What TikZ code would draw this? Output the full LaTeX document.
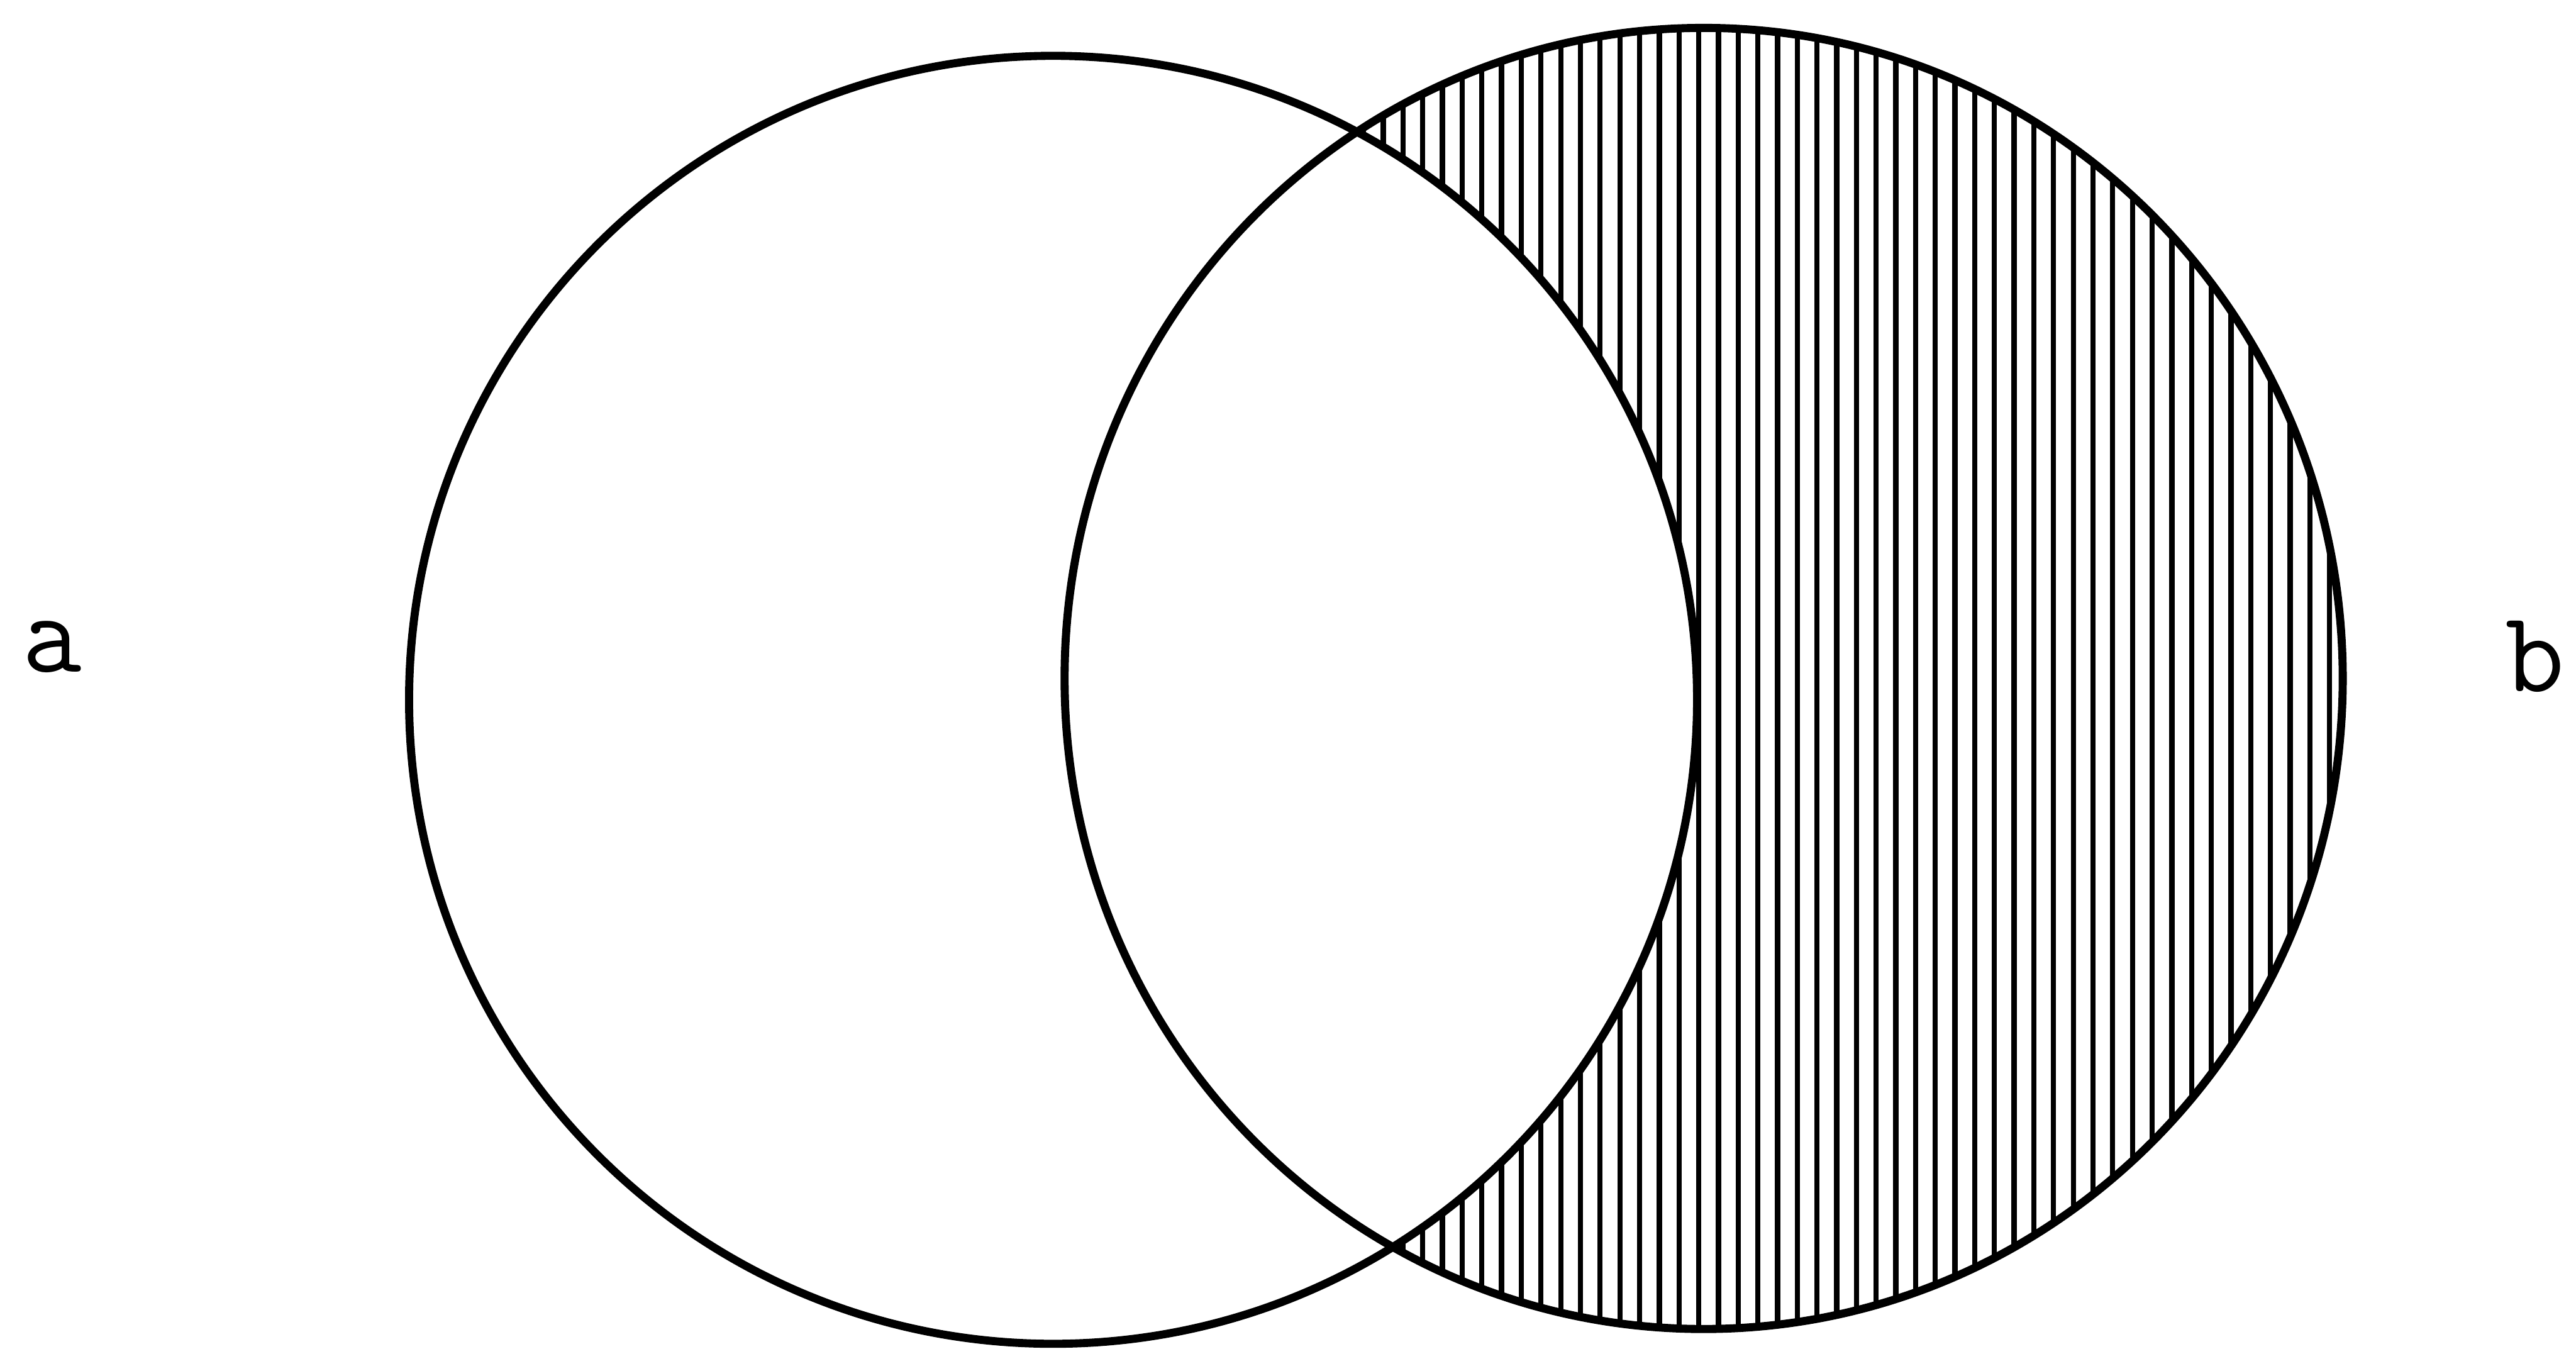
\documentclass[tikz,border=0pt]{standalone}
\usepackage{fontspec}

\tikzset{
    ring/.style={line width=1.4pt},
    hatch/.style={line width=0.9pt},
    setlabel/.style={anchor=base, inner sep=0pt, font=\ttfamily\fontsize{20}{22}\selectfont}
}

\begin{document}
\begin{tikzpicture}

    % 核心参数
    \def\axc{6.41}   \def\ayc{3.98}   \def\ar{3.92}     % 左圆 a
    \def\bxc{10.37}  \def\byc{4.11}                    % 右圆 b
    \def\brx{3.89}   \def\bry{3.96}

    \useasboundingbox (0,0) rectangle (15.68,8.24);

    % 1. 只属于 b 的区域: 竖线阴影
    \begin{scope}
        \clip (\bxc,\byc) ellipse [x radius=\brx, y radius=\bry];
        \foreach \hx in {6.50,6.62,...,14.30}
            \draw[hatch] (\hx,0) -- (\hx,8.24);
    \end{scope}
    % 擦掉与 a 重叠的部分
    \fill[white] (\axc,\ayc) circle [radius=\ar];

    % 2. 两个圆
    \draw[ring] (\axc,\ayc) circle [radius=\ar];
    \draw[ring] (\bxc,\byc) ellipse [x radius=\brx, y radius=\bry];

    % 3. 标注
    \node[setlabel] (la) at (0.315,4.15) {a};
    \node[setlabel] (lb) at (15.43,4.03) {b};

\end{tikzpicture}
\end{document}
